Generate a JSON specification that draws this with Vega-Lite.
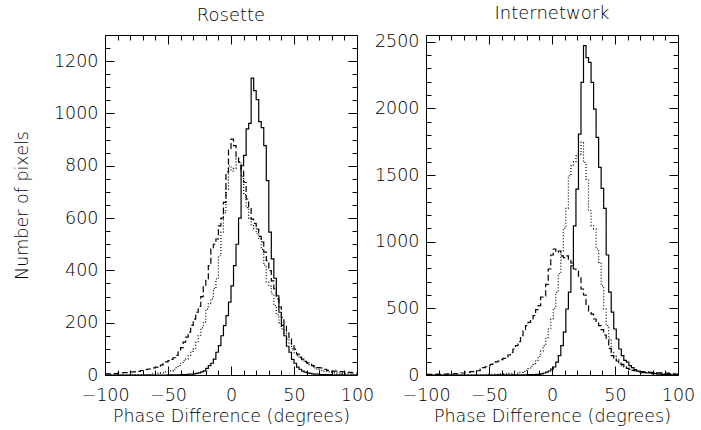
{
  "$schema": "https://vega.github.io/schema/vega-lite/v6.json",
  "background": "white",
  "padding": {"left": 12, "top": 4, "right": 5, "bottom": 5},
  "bounds": "flush",
  "spacing": 69,
  "config": {
    "font": "DejaVu Sans",
    "view": {"stroke": "black", "strokeWidth": 1},
    "axis": {"labelFont": "DejaVu Sans", "labelFontSize": 17.5, "labelFontWeight": 300, "labelColor": "black", "titleFont": "DejaVu Sans", "titleFontSize": 17.5, "titleFontWeight": 300, "titleColor": "black", "tickColor": "black", "tickWidth": 1, "domain": false, "grid": false, "labelFlush": false, "labelOverlap": false, "format": "d"},
    "title": {"font": "DejaVu Sans", "fontSize": 18, "fontWeight": 300, "color": "black", "offset": 10}
  },
  "datasets": {
    "rosette": [
      {"series":"solid","phase":-100,"count":0},{"series":"solid","phase":-50,"count":1},{"series":"solid","phase":-40,"count":2},{"series":"solid","phase":-34,"count":3},{"series":"solid","phase":-30,"count":4},{"series":"solid","phase":-28,"count":6},{"series":"solid","phase":-26,"count":8},{"series":"solid","phase":-24,"count":12},{"series":"solid","phase":-22,"count":16},{"series":"solid","phase":-20,"count":25},{"series":"solid","phase":-18,"count":36},{"series":"solid","phase":-16,"count":45},{"series":"solid","phase":-14,"count":61},{"series":"solid","phase":-12,"count":87},{"series":"solid","phase":-10,"count":112},{"series":"solid","phase":-8,"count":150},{"series":"solid","phase":-6,"count":189},{"series":"solid","phase":-4,"count":227},{"series":"solid","phase":-2,"count":279},{"series":"solid","phase":0,"count":341},{"series":"solid","phase":2,"count":418},{"series":"solid","phase":4,"count":500},{"series":"solid","phase":6,"count":600},{"series":"solid","phase":8,"count":800},{"series":"solid","phase":10,"count":840},{"series":"solid","phase":12,"count":941},{"series":"solid","phase":14,"count":962},{"series":"solid","phase":16,"count":1135},{"series":"solid","phase":18,"count":1087},{"series":"solid","phase":20,"count":1053},{"series":"solid","phase":22,"count":969},{"series":"solid","phase":24,"count":946},{"series":"solid","phase":26,"count":877},{"series":"solid","phase":28,"count":743},{"series":"solid","phase":30,"count":546},{"series":"solid","phase":32,"count":444},{"series":"solid","phase":34,"count":370},{"series":"solid","phase":36,"count":303},{"series":"solid","phase":38,"count":240},{"series":"solid","phase":40,"count":190},{"series":"solid","phase":42,"count":150},{"series":"solid","phase":44,"count":110},{"series":"solid","phase":46,"count":87},{"series":"solid","phase":48,"count":60},{"series":"solid","phase":50,"count":45},{"series":"solid","phase":52,"count":30},{"series":"solid","phase":54,"count":22},{"series":"solid","phase":56,"count":15},{"series":"solid","phase":58,"count":11},{"series":"solid","phase":60,"count":8},{"series":"solid","phase":62,"count":6},{"series":"solid","phase":64,"count":4},{"series":"solid","phase":66,"count":3},{"series":"solid","phase":70,"count":2},{"series":"solid","phase":80,"count":1},{"series":"solid","phase":90,"count":0},{"series":"solid","phase":100,"count":0},
      {"series":"dashed","phase":-100,"count":4},{"series":"dashed","phase":-96,"count":5},{"series":"dashed","phase":-90,"count":7},{"series":"dashed","phase":-86,"count":9},{"series":"dashed","phase":-80,"count":12},{"series":"dashed","phase":-76,"count":14},{"series":"dashed","phase":-72,"count":17},{"series":"dashed","phase":-68,"count":21},{"series":"dashed","phase":-66,"count":23},{"series":"dashed","phase":-62,"count":27},{"series":"dashed","phase":-60,"count":30},{"series":"dashed","phase":-58,"count":33},{"series":"dashed","phase":-56,"count":38},{"series":"dashed","phase":-54,"count":44},{"series":"dashed","phase":-52,"count":50},{"series":"dashed","phase":-50,"count":55},{"series":"dashed","phase":-48,"count":60},{"series":"dashed","phase":-46,"count":66},{"series":"dashed","phase":-44,"count":75},{"series":"dashed","phase":-42,"count":88},{"series":"dashed","phase":-40,"count":105},{"series":"dashed","phase":-38,"count":126},{"series":"dashed","phase":-36,"count":145},{"series":"dashed","phase":-34,"count":164},{"series":"dashed","phase":-32,"count":190},{"series":"dashed","phase":-30,"count":214},{"series":"dashed","phase":-28,"count":240},{"series":"dashed","phase":-26,"count":262},{"series":"dashed","phase":-24,"count":300},{"series":"dashed","phase":-22,"count":340},{"series":"dashed","phase":-20,"count":367},{"series":"dashed","phase":-18,"count":418},{"series":"dashed","phase":-16,"count":482},{"series":"dashed","phase":-14,"count":500},{"series":"dashed","phase":-12,"count":520},{"series":"dashed","phase":-10,"count":570},{"series":"dashed","phase":-8,"count":600},{"series":"dashed","phase":-6,"count":660},{"series":"dashed","phase":-4,"count":776},{"series":"dashed","phase":-2,"count":864},{"series":"dashed","phase":0,"count":902},{"series":"dashed","phase":2,"count":877},{"series":"dashed","phase":4,"count":830},{"series":"dashed","phase":6,"count":814},{"series":"dashed","phase":8,"count":780},{"series":"dashed","phase":10,"count":737},{"series":"dashed","phase":12,"count":673},{"series":"dashed","phase":14,"count":640},{"series":"dashed","phase":16,"count":596},{"series":"dashed","phase":18,"count":580},{"series":"dashed","phase":20,"count":558},{"series":"dashed","phase":22,"count":530},{"series":"dashed","phase":24,"count":508},{"series":"dashed","phase":26,"count":470},{"series":"dashed","phase":28,"count":437},{"series":"dashed","phase":30,"count":399},{"series":"dashed","phase":32,"count":360},{"series":"dashed","phase":34,"count":329},{"series":"dashed","phase":36,"count":291},{"series":"dashed","phase":38,"count":260},{"series":"dashed","phase":40,"count":220},{"series":"dashed","phase":42,"count":189},{"series":"dashed","phase":44,"count":160},{"series":"dashed","phase":46,"count":138},{"series":"dashed","phase":48,"count":115},{"series":"dashed","phase":50,"count":99},{"series":"dashed","phase":52,"count":80},{"series":"dashed","phase":54,"count":68},{"series":"dashed","phase":56,"count":61},{"series":"dashed","phase":58,"count":52},{"series":"dashed","phase":60,"count":46},{"series":"dashed","phase":62,"count":42},{"series":"dashed","phase":64,"count":36},{"series":"dashed","phase":66,"count":32},{"series":"dashed","phase":68,"count":28},{"series":"dashed","phase":70,"count":27},{"series":"dashed","phase":72,"count":22},{"series":"dashed","phase":76,"count":18},{"series":"dashed","phase":80,"count":15},{"series":"dashed","phase":84,"count":13},{"series":"dashed","phase":88,"count":12},{"series":"dashed","phase":92,"count":10},{"series":"dashed","phase":96,"count":8},{"series":"dashed","phase":100,"count":8},
      {"series":"dotted","phase":-100,"count":0},{"series":"dotted","phase":-80,"count":1},{"series":"dotted","phase":-70,"count":2},{"series":"dotted","phase":-64,"count":4},{"series":"dotted","phase":-60,"count":6},{"series":"dotted","phase":-56,"count":8},{"series":"dotted","phase":-52,"count":12},{"series":"dotted","phase":-48,"count":16},{"series":"dotted","phase":-46,"count":22},{"series":"dotted","phase":-44,"count":28},{"series":"dotted","phase":-42,"count":36},{"series":"dotted","phase":-40,"count":45},{"series":"dotted","phase":-38,"count":55},{"series":"dotted","phase":-36,"count":61},{"series":"dotted","phase":-34,"count":75},{"series":"dotted","phase":-32,"count":90},{"series":"dotted","phase":-30,"count":99},{"series":"dotted","phase":-28,"count":125},{"series":"dotted","phase":-26,"count":150},{"series":"dotted","phase":-24,"count":180},{"series":"dotted","phase":-22,"count":203},{"series":"dotted","phase":-20,"count":252},{"series":"dotted","phase":-18,"count":275},{"series":"dotted","phase":-16,"count":291},{"series":"dotted","phase":-14,"count":330},{"series":"dotted","phase":-12,"count":367},{"series":"dotted","phase":-10,"count":456},{"series":"dotted","phase":-8,"count":546},{"series":"dotted","phase":-6,"count":620},{"series":"dotted","phase":-4,"count":711},{"series":"dotted","phase":-2,"count":800},{"series":"dotted","phase":0,"count":780},{"series":"dotted","phase":2,"count":790},{"series":"dotted","phase":4,"count":826},{"series":"dotted","phase":6,"count":815},{"series":"dotted","phase":8,"count":760},{"series":"dotted","phase":10,"count":690},{"series":"dotted","phase":12,"count":640},{"series":"dotted","phase":14,"count":600},{"series":"dotted","phase":16,"count":571},{"series":"dotted","phase":18,"count":560},{"series":"dotted","phase":20,"count":540},{"series":"dotted","phase":22,"count":520},{"series":"dotted","phase":24,"count":480},{"series":"dotted","phase":26,"count":420},{"series":"dotted","phase":28,"count":356},{"series":"dotted","phase":30,"count":340},{"series":"dotted","phase":32,"count":310},{"series":"dotted","phase":34,"count":265},{"series":"dotted","phase":36,"count":230},{"series":"dotted","phase":38,"count":200},{"series":"dotted","phase":40,"count":176},{"series":"dotted","phase":42,"count":160},{"series":"dotted","phase":44,"count":138},{"series":"dotted","phase":46,"count":120},{"series":"dotted","phase":48,"count":100},{"series":"dotted","phase":50,"count":85},{"series":"dotted","phase":52,"count":74},{"series":"dotted","phase":54,"count":65},{"series":"dotted","phase":56,"count":58},{"series":"dotted","phase":58,"count":50},{"series":"dotted","phase":60,"count":44},{"series":"dotted","phase":62,"count":38},{"series":"dotted","phase":64,"count":32},{"series":"dotted","phase":66,"count":27},{"series":"dotted","phase":68,"count":22},{"series":"dotted","phase":70,"count":18},{"series":"dotted","phase":72,"count":15},{"series":"dotted","phase":76,"count":12},{"series":"dotted","phase":80,"count":9},{"series":"dotted","phase":84,"count":7},{"series":"dotted","phase":88,"count":5},{"series":"dotted","phase":92,"count":4},{"series":"dotted","phase":96,"count":2},{"series":"dotted","phase":100,"count":2}
    ],
    "internetwork": [
      {"series":"solid","phase":-100,"count":0},{"series":"solid","phase":-45,"count":1},{"series":"solid","phase":-29,"count":2},{"series":"solid","phase":-19,"count":3},{"series":"solid","phase":-13,"count":5},{"series":"solid","phase":-9,"count":8},{"series":"solid","phase":-7,"count":15},{"series":"solid","phase":-5,"count":22},{"series":"solid","phase":-3,"count":30},{"series":"solid","phase":-1,"count":45},{"series":"solid","phase":1,"count":60},{"series":"solid","phase":3,"count":97},{"series":"solid","phase":5,"count":145},{"series":"solid","phase":7,"count":220},{"series":"solid","phase":9,"count":322},{"series":"solid","phase":11,"count":495},{"series":"solid","phase":13,"count":622},{"series":"solid","phase":15,"count":819},{"series":"solid","phase":17,"count":1119},{"series":"solid","phase":19,"count":1394},{"series":"solid","phase":21,"count":1807},{"series":"solid","phase":23,"count":2194},{"series":"solid","phase":25,"count":2470},{"series":"solid","phase":27,"count":2381},{"series":"solid","phase":29,"count":2344},{"series":"solid","phase":31,"count":2194},{"series":"solid","phase":33,"count":1994},{"series":"solid","phase":35,"count":1782},{"series":"solid","phase":37,"count":1557},{"series":"solid","phase":39,"count":1400},{"series":"solid","phase":41,"count":1250},{"series":"solid","phase":43,"count":900},{"series":"solid","phase":45,"count":622},{"series":"solid","phase":47,"count":472},{"series":"solid","phase":49,"count":345},{"series":"solid","phase":51,"count":270},{"series":"solid","phase":53,"count":195},{"series":"solid","phase":55,"count":145},{"series":"solid","phase":57,"count":110},{"series":"solid","phase":59,"count":97},{"series":"solid","phase":61,"count":70},{"series":"solid","phase":63,"count":55},{"series":"solid","phase":65,"count":40},{"series":"solid","phase":67,"count":32},{"series":"solid","phase":69,"count":25},{"series":"solid","phase":71,"count":18},{"series":"solid","phase":75,"count":15},{"series":"solid","phase":79,"count":10},{"series":"solid","phase":83,"count":7},{"series":"solid","phase":87,"count":5},{"series":"solid","phase":91,"count":3},{"series":"solid","phase":95,"count":2},{"series":"solid","phase":100,"count":2},
      {"series":"dotted","phase":-100,"count":0},{"series":"dotted","phase":-61,"count":2},{"series":"dotted","phase":-51,"count":5},{"series":"dotted","phase":-41,"count":8},{"series":"dotted","phase":-35,"count":12},{"series":"dotted","phase":-31,"count":15},{"series":"dotted","phase":-27,"count":20},{"series":"dotted","phase":-23,"count":27},{"series":"dotted","phase":-21,"count":35},{"series":"dotted","phase":-19,"count":48},{"series":"dotted","phase":-17,"count":65},{"series":"dotted","phase":-15,"count":85},{"series":"dotted","phase":-13,"count":110},{"series":"dotted","phase":-11,"count":140},{"series":"dotted","phase":-9,"count":180},{"series":"dotted","phase":-7,"count":220},{"series":"dotted","phase":-5,"count":280},{"series":"dotted","phase":-3,"count":345},{"series":"dotted","phase":-1,"count":420},{"series":"dotted","phase":1,"count":500},{"series":"dotted","phase":3,"count":620},{"series":"dotted","phase":5,"count":760},{"series":"dotted","phase":7,"count":930},{"series":"dotted","phase":9,"count":1100},{"series":"dotted","phase":11,"count":1250},{"series":"dotted","phase":13,"count":1494},{"series":"dotted","phase":15,"count":1569},{"series":"dotted","phase":17,"count":1600},{"series":"dotted","phase":19,"count":1644},{"series":"dotted","phase":21,"count":1657},{"series":"dotted","phase":23,"count":1744},{"series":"dotted","phase":25,"count":1594},{"series":"dotted","phase":27,"count":1469},{"series":"dotted","phase":29,"count":1232},{"series":"dotted","phase":31,"count":1119},{"series":"dotted","phase":33,"count":1094},{"series":"dotted","phase":35,"count":945},{"series":"dotted","phase":37,"count":845},{"series":"dotted","phase":39,"count":669},{"series":"dotted","phase":41,"count":495},{"series":"dotted","phase":43,"count":370},{"series":"dotted","phase":45,"count":270},{"series":"dotted","phase":47,"count":170},{"series":"dotted","phase":49,"count":140},{"series":"dotted","phase":51,"count":120},{"series":"dotted","phase":53,"count":82},{"series":"dotted","phase":55,"count":70},{"series":"dotted","phase":57,"count":60},{"series":"dotted","phase":59,"count":50},{"series":"dotted","phase":61,"count":42},{"series":"dotted","phase":63,"count":35},{"series":"dotted","phase":65,"count":32},{"series":"dotted","phase":67,"count":28},{"series":"dotted","phase":69,"count":25},{"series":"dotted","phase":73,"count":22},{"series":"dotted","phase":77,"count":18},{"series":"dotted","phase":81,"count":15},{"series":"dotted","phase":87,"count":12},{"series":"dotted","phase":93,"count":8},{"series":"dotted","phase":97,"count":5},{"series":"dotted","phase":100,"count":5},
      {"series":"dashed","phase":-100,"count":4},{"series":"dashed","phase":-91,"count":6},{"series":"dashed","phase":-83,"count":8},{"series":"dashed","phase":-77,"count":11},{"series":"dashed","phase":-73,"count":15},{"series":"dashed","phase":-69,"count":20},{"series":"dashed","phase":-65,"count":25},{"series":"dashed","phase":-61,"count":32},{"series":"dashed","phase":-57,"count":45},{"series":"dashed","phase":-55,"count":55},{"series":"dashed","phase":-53,"count":62},{"series":"dashed","phase":-51,"count":70},{"series":"dashed","phase":-49,"count":80},{"series":"dashed","phase":-47,"count":90},{"series":"dashed","phase":-45,"count":98},{"series":"dashed","phase":-43,"count":105},{"series":"dashed","phase":-41,"count":115},{"series":"dashed","phase":-39,"count":125},{"series":"dashed","phase":-37,"count":133},{"series":"dashed","phase":-35,"count":150},{"series":"dashed","phase":-33,"count":170},{"series":"dashed","phase":-31,"count":195},{"series":"dashed","phase":-29,"count":220},{"series":"dashed","phase":-27,"count":250},{"series":"dashed","phase":-25,"count":295},{"series":"dashed","phase":-23,"count":330},{"series":"dashed","phase":-21,"count":370},{"series":"dashed","phase":-19,"count":395},{"series":"dashed","phase":-17,"count":420},{"series":"dashed","phase":-15,"count":445},{"series":"dashed","phase":-13,"count":490},{"series":"dashed","phase":-11,"count":520},{"series":"dashed","phase":-9,"count":585},{"series":"dashed","phase":-7,"count":594},{"series":"dashed","phase":-5,"count":680},{"series":"dashed","phase":-3,"count":795},{"series":"dashed","phase":-1,"count":900},{"series":"dashed","phase":1,"count":945},{"series":"dashed","phase":3,"count":920},{"series":"dashed","phase":5,"count":930},{"series":"dashed","phase":7,"count":894},{"series":"dashed","phase":9,"count":880},{"series":"dashed","phase":11,"count":894},{"series":"dashed","phase":13,"count":860},{"series":"dashed","phase":15,"count":840},{"series":"dashed","phase":17,"count":795},{"series":"dashed","phase":19,"count":780},{"series":"dashed","phase":21,"count":734},{"series":"dashed","phase":23,"count":645},{"series":"dashed","phase":25,"count":600},{"series":"dashed","phase":27,"count":520},{"series":"dashed","phase":29,"count":480},{"series":"dashed","phase":31,"count":457},{"series":"dashed","phase":33,"count":420},{"series":"dashed","phase":35,"count":395},{"series":"dashed","phase":37,"count":370},{"series":"dashed","phase":39,"count":340},{"series":"dashed","phase":41,"count":300},{"series":"dashed","phase":43,"count":270},{"series":"dashed","phase":45,"count":200},{"series":"dashed","phase":47,"count":145},{"series":"dashed","phase":49,"count":120},{"series":"dashed","phase":51,"count":105},{"series":"dashed","phase":53,"count":97},{"series":"dashed","phase":55,"count":80},{"series":"dashed","phase":57,"count":60},{"series":"dashed","phase":59,"count":50},{"series":"dashed","phase":61,"count":42},{"series":"dashed","phase":63,"count":35},{"series":"dashed","phase":65,"count":32},{"series":"dashed","phase":69,"count":26},{"series":"dashed","phase":73,"count":22},{"series":"dashed","phase":77,"count":20},{"series":"dashed","phase":83,"count":16},{"series":"dashed","phase":89,"count":14},{"series":"dashed","phase":93,"count":10},{"series":"dashed","phase":97,"count":6},{"series":"dashed","phase":100,"count":6}
    ]
  },
  "hconcat": [
    {
      "title": "Rosette",
      "data": {"name": "rosette"},
      "width": 252,
      "height": 340,
      "layer": [
        {
          "mark": {"type": "line", "interpolate": "step-after", "color": "black", "strokeWidth": 1.2},
          "encoding": {
            "x": {"field": "phase", "type": "quantitative", "scale": {"domain": [-100, 100], "nice": false},
              "axis": {"orient": "bottom", "values": [-100,-90,-80,-70,-60,-50,-40,-30,-20,-10,0,10,20,30,40,50,60,70,80,90,100], "tickSize": {"condition": {"test": "datum.value % 50 === 0", "value": -9}, "value": -5}, "labelExpr": "datum.value % 50 === 0 ? datum.label : ''", "labelPadding": 20, "title": "Phase Difference (degrees)", "titlePadding": 0}},
            "y": {"field": "count", "type": "quantitative", "scale": {"domain": [0, 1300], "nice": false},
              "axis": {"orient": "left", "values": [0,50,100,150,200,250,300,350,400,450,500,550,600,650,700,750,800,850,900,950,1000,1050,1100,1150,1200,1250], "tickSize": {"condition": {"test": "datum.value % 200 === 0", "value": -9}, "value": -5}, "labelExpr": "datum.value % 200 === 0 ? datum.label : ''", "labelPadding": 16, "title": "Number of pixels", "titlePadding": 22}},
            "strokeDash": {"field": "series", "type": "nominal", "scale": {"domain": ["solid", "dotted", "dashed"], "range": [[1, 0], [1, 2], [6, 3]]}, "legend": null}
          }
        },
        {
          "mark": {"type": "point", "opacity": 0},
          "encoding": {
            "x": {"field": "phase", "type": "quantitative",
              "axis": {"orient": "top", "values": [-100,-90,-80,-70,-60,-50,-40,-30,-20,-10,0,10,20,30,40,50,60,70,80,90,100], "tickSize": {"condition": {"test": "datum.value % 50 === 0", "value": -9}, "value": -5}, "labels": false, "title": null}},
            "y": {"field": "count", "type": "quantitative",
              "axis": {"orient": "right", "values": [0,50,100,150,200,250,300,350,400,450,500,550,600,650,700,750,800,850,900,950,1000,1050,1100,1150,1200,1250], "tickSize": {"condition": {"test": "datum.value % 200 === 0", "value": -9}, "value": -5}, "labels": false, "title": null}}
          }
        }
      ],
      "resolve": {"axis": {"x": "independent", "y": "independent"}}
    },
    {
      "title": "Internetwork",
      "data": {"name": "internetwork"},
      "width": 252,
      "height": 340,
      "layer": [
        {
          "mark": {"type": "line", "interpolate": "step-after", "color": "black", "strokeWidth": 1.2},
          "encoding": {
            "x": {"field": "phase", "type": "quantitative", "scale": {"domain": [-100, 100], "nice": false},
              "axis": {"orient": "bottom", "values": [-100,-90,-80,-70,-60,-50,-40,-30,-20,-10,0,10,20,30,40,50,60,70,80,90,100], "tickSize": {"condition": {"test": "datum.value % 50 === 0", "value": -9}, "value": -5}, "labelExpr": "datum.value % 50 === 0 ? datum.label : ''", "labelPadding": 20, "title": "Phase Difference (degrees)", "titlePadding": 0}},
            "y": {"field": "count", "type": "quantitative", "scale": {"domain": [0, 2550], "nice": false},
              "axis": {"orient": "left", "values": [0,100,200,300,400,500,600,700,800,900,1000,1100,1200,1300,1400,1500,1600,1700,1800,1900,2000,2100,2200,2300,2400,2500], "tickSize": {"condition": {"test": "datum.value % 500 === 0", "value": -9}, "value": -5}, "labelExpr": "datum.value % 500 === 0 ? datum.label : ''", "labelPadding": 16, "title": null}},
            "strokeDash": {"field": "series", "type": "nominal", "scale": {"domain": ["solid", "dotted", "dashed"], "range": [[1, 0], [1, 2], [6, 3]]}, "legend": null}
          }
        },
        {
          "mark": {"type": "point", "opacity": 0},
          "encoding": {
            "x": {"field": "phase", "type": "quantitative",
              "axis": {"orient": "top", "values": [-100,-90,-80,-70,-60,-50,-40,-30,-20,-10,0,10,20,30,40,50,60,70,80,90,100], "tickSize": {"condition": {"test": "datum.value % 50 === 0", "value": -9}, "value": -5}, "labels": false, "title": null}},
            "y": {"field": "count", "type": "quantitative",
              "axis": {"orient": "right", "values": [0,100,200,300,400,500,600,700,800,900,1000,1100,1200,1300,1400,1500,1600,1700,1800,1900,2000,2100,2200,2300,2400,2500], "tickSize": {"condition": {"test": "datum.value % 500 === 0", "value": -9}, "value": -5}, "labels": false, "title": null}}
          }
        }
      ],
      "resolve": {"axis": {"x": "independent", "y": "independent"}}
    }
  ]
}
